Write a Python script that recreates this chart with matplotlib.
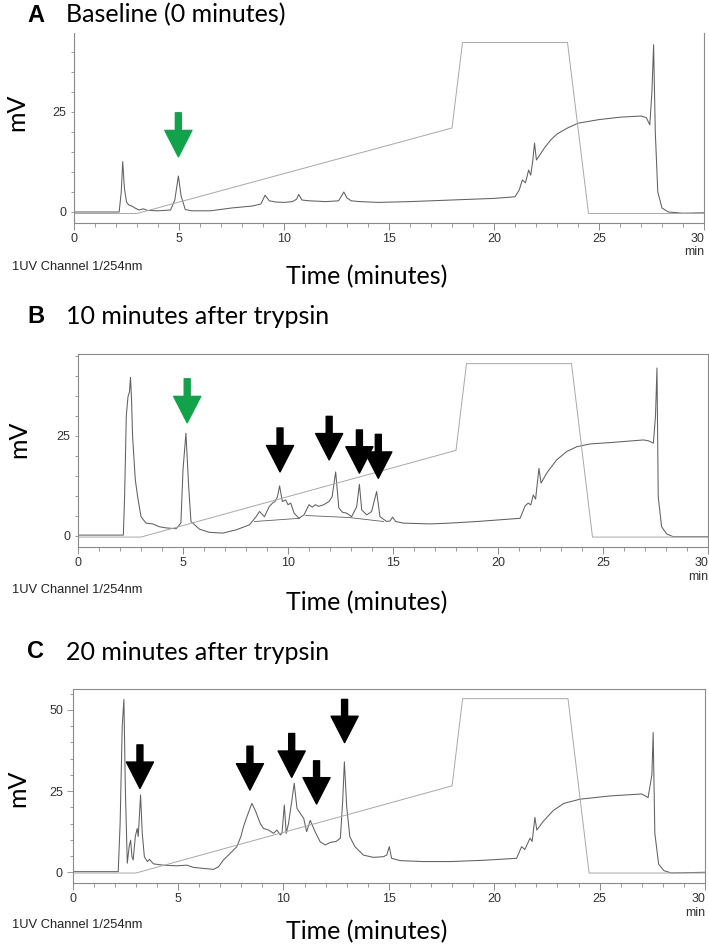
import numpy as np
import matplotlib
matplotlib.use("Agg")
import matplotlib.pyplot as plt

# ---- data (time in min, signal in mV) ----
a_time = [0, 2.15, 2.25, 2.32, 2.4, 2.5, 2.6, 2.75, 2.9, 3.1, 3.3, 3.5, 4.0, 4.6, 4.8, 4.97, 5.1, 5.3, 5.6,
          6.5, 7.5, 8.5, 8.9, 9.1, 9.3, 9.6, 10.0, 10.4, 10.6, 10.7, 10.85, 11.2, 12.0, 12.6, 12.85, 13.0,
          13.2, 13.6, 14.5, 16, 18, 20, 21.0, 21.2, 21.35, 21.5, 21.65, 21.75, 21.85, 21.93, 22.02, 22.4,
          22.7, 23, 23.5, 24, 25, 26, 27, 27.25, 27.42, 27.52, 27.6, 27.68, 27.8, 28.0, 28.3, 29, 30]
a_mv = [0, 0, 5, 12.6, 6, 2.5, 1.8, 1.5, 1.0, 0.5, 0.8, 0.4, 0.3, 0.5, 3, 9, 4, 0.6, 0.3,
        0.3, 1.0, 1.5, 2.0, 4.2, 2.8, 2.5, 2.4, 2.6, 3.2, 4.4, 3.0, 2.8, 2.6, 2.8, 5.0, 3.5,
        2.8, 2.6, 2.4, 2.6, 3.0, 3.4, 3.8, 5.5, 8, 7.3, 10.5, 9.2, 13, 17.2, 13, 16,
        18, 19.5, 21, 22.2, 23.1, 23.7, 24.0, 23.6, 21.8, 30, 41.8, 20, 5, 1.0, 0, -0.3, -0.2]

b_time = [0, 2.16, 2.22, 2.3, 2.38, 2.45, 2.5, 2.55, 2.6, 2.73, 2.84, 3.0, 3.24, 3.56, 3.87, 4.19, 4.67,
          4.9, 5.0, 5.14, 5.27, 5.38, 5.78, 6.25, 6.89, 7.52, 8.16, 8.48, 8.64, 8.88, 9.1, 9.26, 9.38,
          9.5, 9.6, 9.73, 9.89, 10.0, 10.13, 10.29, 10.52, 10.76, 11.0, 11.16, 11.3, 11.46, 11.7, 11.95,
          12.1, 12.27, 12.42, 12.6, 12.79, 13.03, 13.27, 13.4, 13.51, 13.75, 13.98, 14.22, 14.38, 14.7,
          14.86, 14.98, 15.13, 15.49, 16.76, 17.71, 19, 21.05, 21.29, 21.44, 21.56, 21.68, 21.79, 21.95,
          22.05, 22.32, 22.79, 23.27, 23.75, 24.38, 25.49, 26.92, 27.16, 27.4, 27.5, 27.57, 27.63,
          27.79, 28.03, 28.35, 30]
b_mv = [0.2, 0.2, 10, 30, 34.8, 36, 39.7, 34, 24.8, 14, 9.8, 4.8, 3.2, 3, 2.3, 2, 1.8,
        3.2, 16.5, 25.7, 12.3, 3.6, 1.7, 0.9, 0.7, 1.5, 2.75, 4.8, 6.1, 4.8, 7.3, 8.2, 8.6,
        9.8, 12.5, 8.6, 9, 7.8, 8.2, 5.7, 4.4, 5.25, 7.8, 7.2, 7.8, 7.4, 7.8, 8.6,
        9.8, 16, 7, 5.9, 5.7, 4.8, 7.3, 12.9, 6.5, 5.25, 6.1, 11.1, 4.8, 3.6,
        3.75, 4.7, 3.6, 3.2, 3.0, 3.2, 3.6, 4.4, 7.5, 8.2, 7.75, 10.25, 9.2, 16.9,
        13.2, 15.7, 19, 21.1, 22.3, 23, 23.4, 24, 23.8, 23.2, 30, 42, 9.8,
        2.3, 0.5, -0.2, -0.2]
# integration baselines drawn under the peak clusters in B
b_base1_time = [8.4, 10.55]
b_base1_mv = [3.6, 4.4]
b_base2_time = [10.85, 12.9, 14.55]
b_base2_mv = [5.1, 4.6, 3.6]

c_time = [0, 2.16, 2.25, 2.35, 2.43, 2.5, 2.59, 2.68, 2.75, 2.81, 2.87, 2.97, 3.06, 3.11, 3.22, 3.3, 3.4,
          3.54, 3.64, 3.83, 4.3, 4.94, 5.42, 5.73, 6.2, 6.68, 6.92, 7.15, 7.47, 7.79, 7.98, 8.1, 8.26,
          8.5, 8.66, 8.9, 9.05, 9.29, 9.53, 9.69, 9.85, 9.93, 10.04, 10.13, 10.24, 10.4, 10.51, 10.64,
          10.8, 10.96, 11.1, 11.27, 11.5, 11.74, 11.98, 12.22, 12.5, 12.7, 12.81, 12.89, 13.0, 13.15,
          13.39, 13.79, 14.26, 14.74, 14.9, 15.02, 15.13, 15.53, 16.64, 17.9, 19.5, 21.06, 21.3, 21.45,
          21.7, 21.8, 21.93, 22.02, 22.3, 22.8, 23.3, 24.07, 25.5, 27.0, 27.3, 27.48, 27.54, 27.62,
          27.8, 28.05, 28.4, 30]
c_mv = [0.2, 0.2, 15, 45, 53.2, 25, 2.8, 8, 9.9, 4.8, 3.8, 11, 13.5, 11, 23.8, 12, 4.8,
        3.3, 4, 2.6, 2.2, 2, 2.2, 1.5, 1.2, 0.9, 1.7, 3.8, 5.8, 7.9, 11, 14, 17,
        21.2, 19.1, 15, 13.5, 13, 12, 13, 11.5, 12, 20.7, 12, 15, 22.2, 27.4, 19.7,
        18.1, 16.6, 12.5, 16, 12.5, 9.4, 8.4, 9.2, 9.5, 10.5, 22, 34, 20.2, 10.9,
        7.9, 5.3, 4.6, 4.8, 5.3, 7.9, 4.3, 3.6, 3.3, 3.3, 3.7, 4.3, 7.9, 7,
        10.5, 9.5, 16.9, 13, 15.5, 19, 21.2, 22.5, 23.5, 24.1, 23, 30, 43, 12,
        2.5, 0.5, -0.2, 0.0]

# solvent gradient (% of detector full scale)
grad_time = [0, 3, 18, 18.5, 23.5, 24.5, 30]
grad_pct = [5, 5, 50, 95, 95, 5, 5]

# arrows: x position, tip (mV), tail (mV)
a_green = [(4.97, 13.8, 24.8)]
b_green = [(5.2, 28.3, 39.3)]
b_black = [(9.62, 16.0, 27.0), (11.96, 19.0, 29.9), (13.4, 15.7, 26.5), (14.3, 14.4, 25.4)]
c_black = [(3.19, 25.8, 39.2), (8.41, 25.3, 38.8), (10.39, 29.2, 42.7), (11.57, 21.0, 34.3), (12.9, 39.9, 53.2)]

W, H = 709, 949
fig = plt.figure(figsize=(W / 100, H / 100), dpi=100)

TITLE_FONT = ['Lato', 'DejaVu Sans']
SMALL_FONT = ['Liberation Sans', 'DejaVu Sans']
trace_c = '#606060'
grad_c = '#a8a8a8'
spine_c = '#8a8a8a'


def px(x, y):
    return x / W, 1 - y / H


def axes_px(left, top, right, bottom):
    return [left / W, 1 - bottom / H, (right - left) / W, (bottom - top) / H]


def panel(rect, t, mv, ylim, yticks, letter, title, yspots, arrows_g, arrows_k, top_spine=True):
    ax = fig.add_axes(rect)
    ax.plot(t, mv, color=trace_c, lw=0.75)
    ax.plot(grad_time, np.array(grad_pct) / 100, color=grad_c, lw=0.7,
            transform=ax.get_xaxis_transform())
    ax.set_xlim(0, 30)
    ax.set_ylim(*ylim)
    ax.set_xticks(range(0, 31, 5))
    ax.set_xticks(range(0, 31), minor=True)
    ax.set_yticks(yticks)
    ax.set_yticks(np.arange(0, ylim[1], 5), minor=True)
    for s in ax.spines.values():
        s.set_color(spine_c)
        s.set_linewidth(0.8)
    ax.spines['top'].set_visible(top_spine)
    ax.tick_params(axis='x', which='major', length=5, width=0.7, color=spine_c, pad=2.5)
    ax.tick_params(axis='x', which='minor', length=3, width=0.6, color=spine_c)
    ax.tick_params(axis='y', which='both', length=2.5, width=0.6, color=spine_c, pad=3)
    for lab in ax.get_xticklabels() + ax.get_yticklabels():
        lab.set_fontfamily(SMALL_FONT)
        lab.set_fontsize(9)
        lab.set_color('#333333')
    ax.get_xticklabels()[-1].set_ha('right')

    for arrows, col in ((arrows_g, '#12a24a'), (arrows_k, 'black')):
        for x, tip, tail in arrows:
            ax.annotate('', xy=(x, tip), xytext=(x, tail),
                        arrowprops=dict(facecolor=col, edgecolor=col, width=4.3,
                                        headwidth=19.5, headlength=19, shrink=0))

    ty, my, tmy, chy, miny, mvx = yspots
    fig.text(*px(27, ty), letter, fontsize=17, fontweight='bold', family=SMALL_FONT, va='center')
    fig.text(*px(66, ty), title, fontsize=18, family=TITLE_FONT, va='center')
    fig.text(*px(mvx, my), 'mV', fontsize=18, family=TITLE_FONT, rotation=90, va='center', ha='center')
    fig.text(*px(367, tmy), 'Time (minutes)', fontsize=18, family=TITLE_FONT, va='center', ha='center')
    fig.text(*px(12, chy), '1UV Channel 1/254nm', fontsize=9.3, family=SMALL_FONT, va='center', color='#222222')
    fig.text(*px(rect[0] * W + rect[2] * W, miny), 'min', fontsize=9, family=SMALL_FONT,
             va='center', ha='right', color='#333333')
    return ax


axA = panel(axes_px(74, 33, 704, 223), a_time, a_mv, (-2.75, 44.75), [0, 25],
            'A', 'Baseline (0 minutes)', (15, 112, 277, 267, 252, 17), a_green, [], top_spine=False)
axB = panel(axes_px(78, 354, 708, 546.7), b_time, b_mv, (-2.7, 45.5), [0, 25],
            'B', '10 minutes after trypsin', (317, 439, 603, 590, 577, 19), b_green, b_black)
axB.plot(b_base1_time, b_base1_mv, color=trace_c, lw=0.6)
axB.plot(b_base2_time, b_base2_mv, color=trace_c, lw=0.6)
axC = panel(axes_px(72.7, 689, 705, 882.7), c_time, c_mv, (-3.2, 56.4), [0, 25, 50],
            'C', '20 minutes after trypsin', (652, 788, 932, 925, 913, 18), [], c_black)
axC.tick_params(axis='y', which='major', length=4)

fig.savefig('out.png', dpi=100)
